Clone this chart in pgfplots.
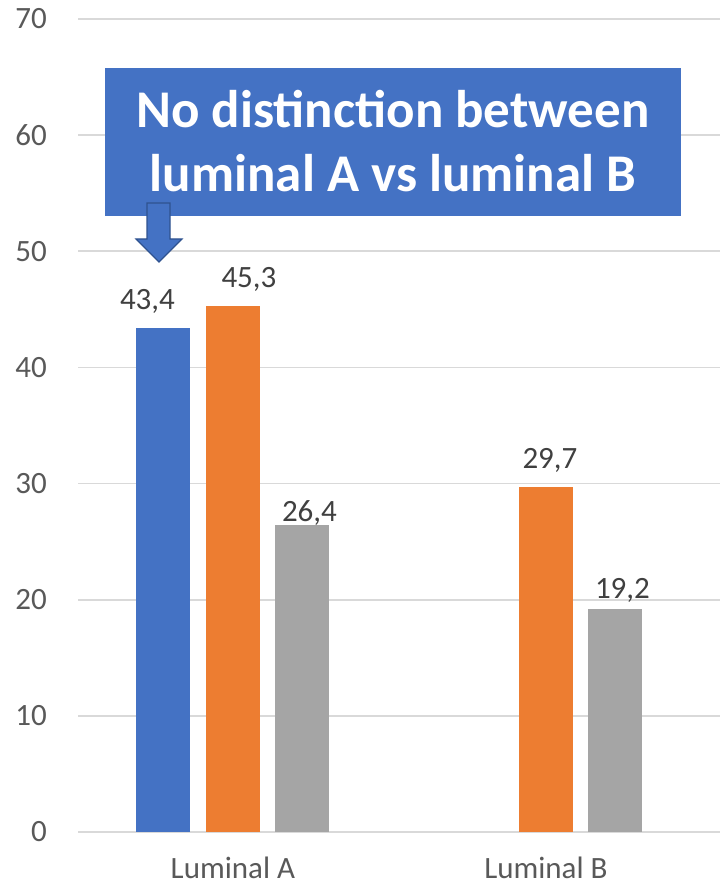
\documentclass[border=0pt]{standalone}
\usepackage{pgfplots}
\pgfplotsset{compat=1.18}
\usepackage{fontspec}
\setmainfont{Carlito}

\definecolor{serA}{HTML}{4472C4}
\definecolor{serB}{HTML}{ED7D31}
\definecolor{serC}{HTML}{A5A5A5}
\definecolor{gridgray}{HTML}{D9D9D9}
\definecolor{ticktext}{HTML}{595959}
\definecolor{labeltext}{HTML}{404040}
\definecolor{arrowline}{HTML}{2F528F}

% value label placed above its bar, shifted by (#1, #2) from the category centre
\pgfplotsset{
  lbl/.style 2 args={nodes near coords, nodes near coords style={
    anchor=base, inner sep=0pt, xshift=#1, yshift=#2,
    font=\fontsize{31}{37}\selectfont, text=labeltext}},
}

\begin{document}
\begin{tikzpicture}[x=1pt,y=1pt]
\begin{axis}[
  at={(78pt,54pt)}, anchor=south west,
  scale only axis, width=642pt, height=813pt,
  xmin=-0.495, xmax=1.556, ymin=0, ymax=70,
  ytick={0,10,...,70},
  xtick={0,1}, xticklabels={Luminal A, Luminal B},
  axis line style={draw=none},
  major tick length=0pt,
  ymajorgrids,
  grid style={draw=gridgray, line width=1.6pt},
  /pgf/number format/assume math mode=true,
  /pgf/number format/.cd, use comma, fixed, fixed zerofill, precision=1,
  /pgfplots/.cd,
  yticklabel={\pgfmathprintnumber[fixed, precision=0, fixed zerofill=false]{\tick}},
  yticklabel style={anchor=east, inner sep=0pt, xshift=-31pt,
    font=\fontsize{31}{37}\selectfont, text=ticktext},
  xticklabel style={anchor=base, inner sep=0pt, yshift=-46pt,
    font=\fontsize{31}{37}\selectfont, text=ticktext},
  bar width=54pt,
  clip=false,
]
% Luminal A
\addplot[ybar, bar shift=-69.5pt, fill=serA, draw=none, lbl={-85.5pt}{18pt}] coordinates {(0,43.4)};
\addplot[ybar, bar shift=0pt,     fill=serB, draw=none, lbl={16pt}{18pt}]    coordinates {(0,45.3)};
\addplot[ybar, bar shift=69.5pt,  fill=serC, draw=none, lbl={76.5pt}{4pt}]   coordinates {(0,26.4)};
% Luminal B
\addplot[ybar, bar shift=0pt,     fill=serB, draw=none, lbl={4pt}{19pt}]     coordinates {(1,29.7)};
\addplot[ybar, bar shift=69.5pt,  fill=serC, draw=none, lbl={76.5pt}{11pt}]  coordinates {(1,19.2)};
\end{axis}

% callout box
\fill[serA] (105,670) rectangle (681,818);
\node[anchor=base, inner sep=0pt, text=white, font=\fontsize{53}{64}\selectfont\bfseries]
  at (393,758) {No distinction between};
\node[anchor=base, inner sep=0pt, text=white, font=\fontsize{53}{64}\selectfont\bfseries]
  at (393,694) {luminal A vs luminal B};

% down arrow
\filldraw[fill=serA, draw=arrowline, line width=1.2pt, line join=miter]
  (147,683) -- (170,683) -- (170,647) -- (182,647) -- (159,624)
  -- (136,647) -- (147,647) -- cycle;

\pgfresetboundingbox
\useasboundingbox (0,0) rectangle (720,886);
\end{tikzpicture}
\end{document}
